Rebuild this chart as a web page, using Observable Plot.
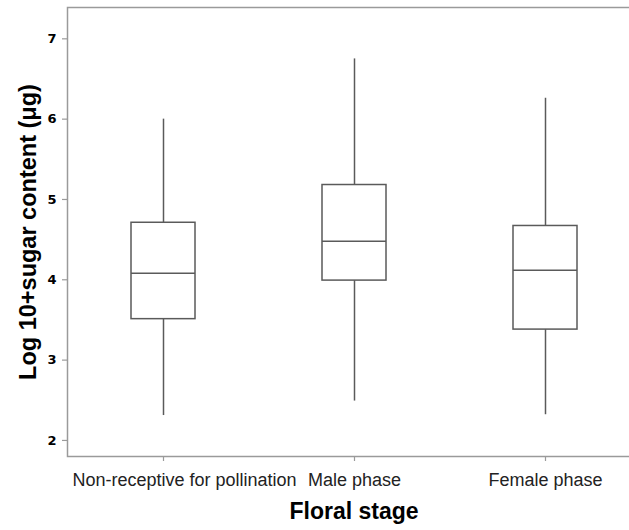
<!DOCTYPE html>
<html><head><meta charset="utf-8">
<script src="https://cdn.jsdelivr.net/npm/d3@7"></script>
<script src="https://cdn.jsdelivr.net/npm/@observablehq/plot@0.6"></script>
<style>html,body{margin:0;padding:0;overflow:hidden;background:#fff}</style>
</head><body><div id="chart"></div>
<script>
const stages = ["Non-receptive for pollination", "Male phase", "Female phase"];
const whiskerLow = [2.31, 2.49, 2.32];
const q1 = [3.51, 3.99, 3.38];
const median = [4.08, 4.48, 4.12];
const q3 = [4.71, 5.18, 4.67];
const whiskerHigh = [6.0, 6.75, 6.26];
const yTicks = [2, 3, 4, 5, 6, 7];
const yLabel = "Log 10+sugar content (μg)";
const xLabel = "Floral stage";

const rows = stages.map((s, i) => ({stage: s, lo: whiskerLow[i], q1: q1[i], med: median[i], q3: q3[i], hi: whiskerHigh[i]}));

const boxColor = "#5a5a5a";
const axisColor = "#9a9a9a";
const tickFont = 18;

const plot = Plot.plot({
  width: 642, height: 530,
  marginLeft: 67, marginRight: 2, marginTop: 7, marginBottom: 74,
  style: {background: "#fff", fontFamily: "'Liberation Sans', Arial, sans-serif", overflow: "visible", maxWidth: "none"},
  x: {domain: stages, paddingInner: 0.665, paddingOuter: 0.3325},
  y: {domain: [1.80, 7.39]},
  marks: [
    Plot.frame({stroke: axisColor, strokeWidth: 1.5}),
    Plot.ruleX(rows, {x: "stage", y1: "lo", y2: "q1", stroke: boxColor, strokeWidth: 1.5}),
    Plot.ruleX(rows, {x: "stage", y1: "q3", y2: "hi", stroke: boxColor, strokeWidth: 1.5}),
    Plot.barY(rows, {x: "stage", y1: "q1", y2: "q3", fill: "white", stroke: boxColor, strokeWidth: 1.5}),
    Plot.tickY(rows, {x: "stage", y: "med", stroke: boxColor, strokeWidth: 1.5}),
    Plot.axisY({ticks: yTicks, tickFormat: "d", tickSize: 5, tickPadding: 6, stroke: axisColor, strokeWidth: 1.2, fill: "#000",
      fontWeight: "bold", fontSize: 13, fontFamily: "'DejaVu Sans', sans-serif", label: null}),
    // first category label is kept inside the frame (left-aligned), the others centred on their ticks
    Plot.axisX({tickSize: 5, tickPadding: 12, stroke: axisColor, strokeWidth: 1.2, fill: "#222",
      fontSize: tickFont, label: null, tickFormat: (d) => d === stages[0] ? "" : d}),
    Plot.text([stages[0]], {frameAnchor: "bottom-left", dx: 5, dy: 17, textAnchor: "start", lineAnchor: "top",
      fontSize: tickFont, fill: "#222"}),
    Plot.text([yLabel], {frameAnchor: "left", dx: -39.5, dy: 0, rotate: -90, textAnchor: "middle", lineAnchor: "middle",
      fontSize: 23.5, fontWeight: "bold", fill: "#000"}),
    Plot.text([xLabel], {frameAnchor: "bottom", dy: 55.5, dx: 0, textAnchor: "middle", lineAnchor: "middle",
      fontSize: 23, fontWeight: "bold", fill: "#000"})
  ]
});
document.getElementById("chart").appendChild(plot);
</script>
</body></html>
